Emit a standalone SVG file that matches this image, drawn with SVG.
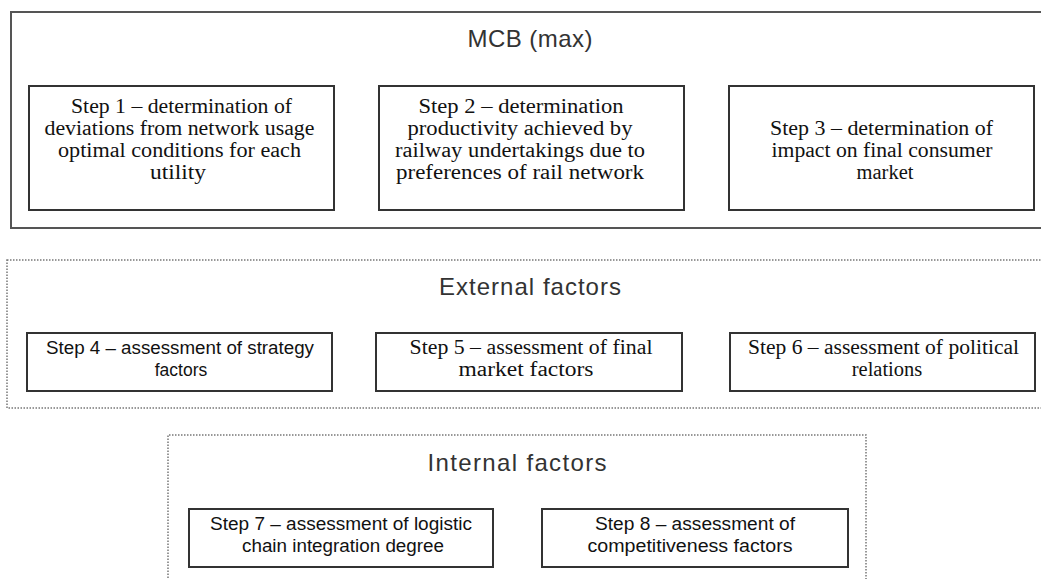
<svg xmlns="http://www.w3.org/2000/svg" width="1041" height="579" viewBox="0 0 1041 579">
<style>
.bg{fill:#ffffff}
.outer{fill:none;stroke:#555;stroke-width:2}
.dotted{fill:none;stroke:#777;stroke-width:1.5;stroke-dasharray:1.5 1.5}
.step{fill:#fff;stroke:#333;stroke-width:2}
.title{font-family:"Liberation Sans",Arial,sans-serif;font-size:24px;fill:#333;text-anchor:middle}
.serif{font-family:"Liberation Serif","Times New Roman",serif;font-size:20.5px;fill:#111;text-anchor:middle}
.sans{font-family:"Liberation Sans",Arial,sans-serif;font-size:17.5px;fill:#111;text-anchor:middle}
</style>
<rect class="bg" x="0" y="0" width="1041" height="579"/>
<g id="group-mcb">
<rect class="outer" x="11" y="12" width="1050" height="216"/>
<text class="title" x="530" y="47" textLength="125" lengthAdjust="spacing">MCB (max)</text>
</g>
<g id="step1">
<rect class="step" x="29" y="86" width="305" height="124"/>
<text class="serif" x="181.5" y="113" textLength="221" lengthAdjust="spacingAndGlyphs">Step 1 – determination of</text>
<text class="serif" x="179.5" y="135" textLength="270" lengthAdjust="spacingAndGlyphs">deviations from network usage</text>
<text class="serif" x="179.5" y="157" textLength="243" lengthAdjust="spacingAndGlyphs">optimal conditions for each</text>
<text class="serif" x="178" y="179" textLength="56" lengthAdjust="spacingAndGlyphs">utility</text>
</g>
<g id="step2">
<rect class="step" x="379" y="86" width="305" height="124"/>
<text class="serif" x="521" y="113" textLength="205" lengthAdjust="spacingAndGlyphs">Step 2 – determination</text>
<text class="serif" x="520" y="135" textLength="225" lengthAdjust="spacingAndGlyphs">productivity achieved by</text>
<text class="serif" x="520" y="157" textLength="250" lengthAdjust="spacingAndGlyphs">railway undertakings due to</text>
<text class="serif" x="520" y="179" textLength="248" lengthAdjust="spacingAndGlyphs">preferences of rail network</text>
</g>
<g id="step3">
<rect class="step" x="729" y="86" width="305" height="124"/>
<text class="serif" x="881.5" y="135" textLength="223" lengthAdjust="spacingAndGlyphs">Step 3 – determination of</text>
<text class="serif" x="882" y="157" textLength="221" lengthAdjust="spacingAndGlyphs">impact on final consumer</text>
<text class="serif" x="885" y="179">market</text>
</g>
<g id="group-external">
<rect class="dotted" x="7" y="260" width="1060" height="148"/>
<text class="title" x="530" y="295" textLength="182" lengthAdjust="spacing">External factors</text>
</g>
<g id="step4">
<rect class="step" x="27" y="333" width="305" height="58"/>
<text class="sans" x="180" y="354" textLength="268" lengthAdjust="spacingAndGlyphs">Step 4 – assessment of strategy</text>
<text class="sans" x="181" y="376">factors</text>
</g>
<g id="step5">
<rect class="step" x="376" y="333" width="306" height="58"/>
<text class="serif" x="531" y="354" textLength="243" lengthAdjust="spacingAndGlyphs">Step 5 – assessment of final</text>
<text class="serif" x="526" y="376" textLength="135" lengthAdjust="spacingAndGlyphs">market factors</text>
</g>
<g id="step6">
<rect class="step" x="730" y="333" width="305" height="58"/>
<text class="serif" x="883.5" y="354" textLength="271" lengthAdjust="spacingAndGlyphs">Step 6 – assessment of political</text>
<text class="serif" x="887" y="376">relations</text>
</g>
<g id="group-internal">
<path class="dotted" d="M168,590 V435 H866 V590"/>
<text class="title" x="517" y="471" textLength="179" lengthAdjust="spacing">Internal factors</text>
</g>
<g id="step7">
<rect class="step" x="189" y="509" width="304" height="58"/>
<text class="sans" x="341" y="530" textLength="262" lengthAdjust="spacingAndGlyphs">Step 7 – assessment of logistic</text>
<text class="sans" x="343" y="552" textLength="202" lengthAdjust="spacingAndGlyphs">chain integration degree</text>
</g>
<g id="step8">
<rect class="step" x="542" y="509" width="306" height="58"/>
<text class="sans" x="695" y="530" textLength="200" lengthAdjust="spacingAndGlyphs">Step 8 – assessment of</text>
<text class="sans" x="690" y="552" textLength="205" lengthAdjust="spacingAndGlyphs">competitiveness factors</text>
</g>
<g id="connectors"></g>
</svg>
